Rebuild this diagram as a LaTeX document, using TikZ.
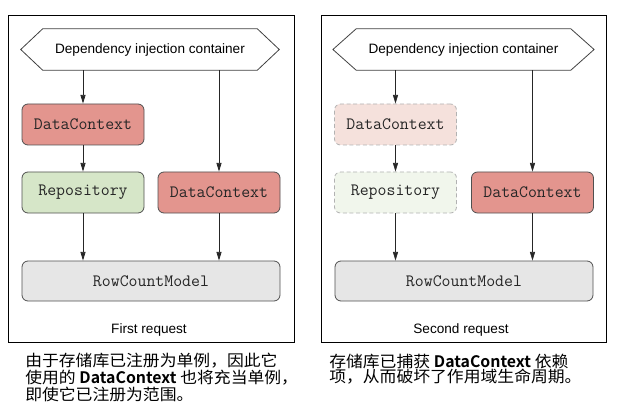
\documentclass[tikz,border=0pt]{standalone}
\usepackage{fontspec}
\setsansfont{Liberation Sans}
\newfontfamily\cjk[FakeStretch=1.06]{Noto Sans CJK SC}
\newfontfamily\cjkbf{Noto Sans CJK SC Bold}
\usetikzlibrary{arrows.meta,positioning}

\definecolor{dcred}{HTML}{E3958E}
\definecolor{repogreen}{HTML}{D6E6C8}
\definecolor{rcmgray}{HTML}{E6E6E6}
\definecolor{dcfade}{HTML}{F5E1DC}
\definecolor{repofade}{HTML}{F1F6EC}
\definecolor{boxline}{HTML}{505050}
\newcommand\tightlines{\lineskiplimit=-20pt\relax}

\begin{document}
\begin{tikzpicture}[
  x=0.75pt, y=-0.75pt,
  box/.style={rectangle, draw=boxline, line width=0.6pt, rounded corners=4.5pt, minimum width=91.5pt, minimum height=30.75pt, align=center, font=\fontsize{13}{15}\ttfamily, text=black!85},
  widebox/.style={box, minimum width=193.5pt, minimum height=30pt, fill=rcmgray},
  fadebox/.style={box, draw=black!30, dashed, dash pattern=on 3pt off 2pt},
  hexbox/.style={minimum width=160.5pt, minimum height=30.75pt, font=\sffamily\fontsize{10.2}{12}\selectfont},
  hexline/.style={draw=black!75, line width=0.6pt},
  frame/.style={draw, line width=0.7pt},
  arrow/.style={-{Triangle[length=6.5pt,width=3.8pt]}, line width=0.6pt, black!85},
  tag/.style={font=\sffamily\fontsize{10.2}{12}\selectfont},
  caption/.style={anchor=north west, inner sep=0pt, align=left, font=\cjk\fontsize{11.9}{12.75}\selectfont\tightlines}
]
  \useasboundingbox (0,0) rectangle (622,410);

  % first request
  \draw[frame] (8,15) rectangle (294,342);
  \node[hexbox] (dic1) at (150,49.5) {Dependency injection container};
  \draw[hexline] (dic1.north west) -- (dic1.north east) -- ([xshift=16.5pt]dic1.east) -- (dic1.south east)
    -- (dic1.south west) -- ([xshift=-16.5pt]dic1.west) -- cycle;
  \node[box, fill=dcred] (dc1) at (83,124.5) {DataContext};
  \node[box, fill=repogreen] (repo1) at (83,192.5) {Repository};
  \node[box, fill=dcred] (dcb1) at (219,192.5) {DataContext};
  \node[widebox] (rcm1) at (151,281) {RowCountModel};
  \node[tag] (req1) at (149,329.5) {First request};

  \draw[arrow] (dic1.south -| dc1.north) -- (dc1.north);
  \draw[arrow] (dc1) -- (repo1);
  \draw[arrow] (repo1) -- (rcm1.north -| repo1);
  \draw[arrow] (dic1.south -| dcb1.north) -- (dcb1.north);
  \draw[arrow] (dcb1) -- (rcm1.north -| dcb1);

  % second request
  \draw[frame] (321,15) rectangle (606,342);
  \node[hexbox] (dic2) at (463.5,49.5) {Dependency injection container};
  \draw[hexline] (dic2.north west) -- (dic2.north east) -- ([xshift=17.5pt]dic2.east) -- (dic2.south east)
    -- (dic2.south west) -- ([xshift=-17.5pt]dic2.west) -- cycle;
  \node[fadebox, fill=dcfade] (dc2) at (395.5,124.5) {DataContext};
  \node[fadebox, fill=repofade] (repo2) at (395.5,192.5) {Repository};
  \node[box, fill=dcred] (dcb2) at (532.5,192.5) {DataContext};
  \node[widebox] (rcm2) at (464,281) {RowCountModel};
  \node[tag] (req2) at (461,329.5) {Second request};

  \draw[arrow] (dic2.south -| dc2.north) -- (dc2.north);
  \draw[arrow] (dc2) -- (repo2);
  \draw[arrow] (repo2) -- (rcm2.north -| repo2);
  \draw[arrow] (dic2.south -| dcb2.north) -- (dcb2.north);
  \draw[arrow] (dcb2) -- (rcm2.north -| dcb2);

  % captions
  \node[caption] (cap1) at (25,353) {由于存储库已注册为单例，因此它\\使用的 {\cjkbf DataContext} 也将充当单例，\\即使它已注册为范围。};
  \node[caption, font=\cjk\fontsize{11.9}{11.25}\selectfont\tightlines] (cap2) at (329,353.5) {存储库已捕获 {\cjkbf DataContext} 依赖\\项，从而破坏了作用域生命周期。};
\end{tikzpicture}
\end{document}
